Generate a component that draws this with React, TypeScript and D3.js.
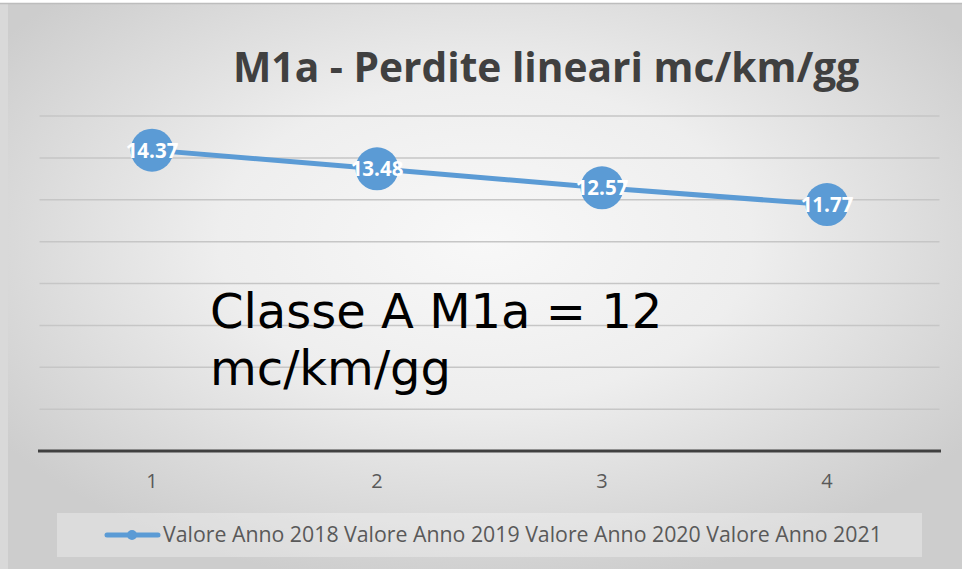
import React from "react";
import * as d3 from "d3";

const categories = ["1", "2", "3", "4"];
const values = [14.37, 13.48, 12.57, 11.77];
const yTicks = [2, 4, 6, 8, 10, 12, 14, 16];
const legendLabel = "Valore Anno 2018 Valore Anno 2019 Valore Anno 2020 Valore Anno 2021";
const title = "M1a - Perdite lineari mc/km/gg";
const noteLines = ["Classe A M1a = 12", "mc/km/gg"];

const W = 962;
const H = 569;

export default function App() {
  const x = d3.scaleBand<string>().domain(categories).range([39.5, 939.5]);
  const y = d3.scaleLinear().domain([0, 16]).range([451, 116]);
  const cx = (c: string) => (x(c) as number) + x.bandwidth() / 2;
  const line = d3
    .line<number>()
    .x((_, i) => cx(categories[i]))
    .y((d) => y(d));
  const blue = "#5b9bd5";
  const sans = "'Open Sans', sans-serif";

  return (
    <svg
      width={W}
      height={H}
      style={{ position: "absolute", left: 0, top: 0, display: "block" }}
    >
      <defs>
        <radialGradient id="bg" cx="0.5" cy="0.42" r="0.62">
          <stop offset="0" stopColor="#f8f8f8" />
          <stop offset="0.45" stopColor="#eeeeee" />
          <stop offset="1" stopColor="#cdcdcd" />
        </radialGradient>
      </defs>
      <rect x={0} y={0} width={W} height={H} fill="#ffffff" />
      <rect x={0} y={3} width={W} height={H - 3} fill="#d9d9d9" />
      <rect x={8} y={4} width={W - 8} height={H - 4} fill="url(#bg)" />
      <line x1={0} x2={W} y1={3.5} y2={3.5} stroke="#bdbdbd" strokeWidth={1.5} />

      <text
        x={233}
        y={82}
        fontFamily={sans}
        fontWeight={700}
        fontSize={40.7}
        fill="#404040"
      >
        {title}
      </text>

      {yTicks.map((t) => (
        <line
          key={t}
          x1={39.5}
          x2={939.5}
          y1={y(t)}
          y2={y(t)}
          stroke="#c6c6c6"
          strokeWidth={1.5}
        />
      ))}
      <line x1={38} x2={941} y1={y(0)} y2={y(0)} stroke="#404040" strokeWidth={3} />

      {categories.map((c) => (
        <text
          key={c}
          x={cx(c)}
          y={488}
          textAnchor="middle"
          fontFamily={sans}
          fontSize={20}
          fill="#595959"
        >
          {c}
        </text>
      ))}

      <text fontFamily="'DejaVu Sans', sans-serif" fontSize={48} fill="#000000">
        {noteLines.map((l, i) => (
          <tspan key={i} x={210} y={328 + i * 57}>
            {l}
          </tspan>
        ))}
      </text>

      <path d={line(values) || ""} fill="none" stroke={blue} strokeWidth={5} strokeLinecap="round" />
      {values.map((v, i) => (
        <circle key={i} cx={cx(categories[i])} cy={y(v)} r={21.5} fill={blue} />
      ))}
      {values.map((v, i) => (
        <text
          key={i}
          x={cx(categories[i])}
          y={y(v) + 7.5}
          textAnchor="middle"
          fontFamily={sans}
          fontWeight={700}
          fontSize={20.5}
          fill="#ffffff"
        >
          {v.toFixed(2)}
        </text>
      ))}

      <rect x={57} y={513} width={865} height={44} fill="#ffffff" fillOpacity={0.3} />
      <line x1={107} x2={158} y1={535} y2={535} stroke={blue} strokeWidth={5} strokeLinecap="round" />
      <circle cx={132} cy={535} r={5} fill={blue} />
      <text x={163} y={542} fontFamily={sans} fontSize={21.3} fill="#595959">
        {legendLabel}
      </text>
    </svg>
  );
}
